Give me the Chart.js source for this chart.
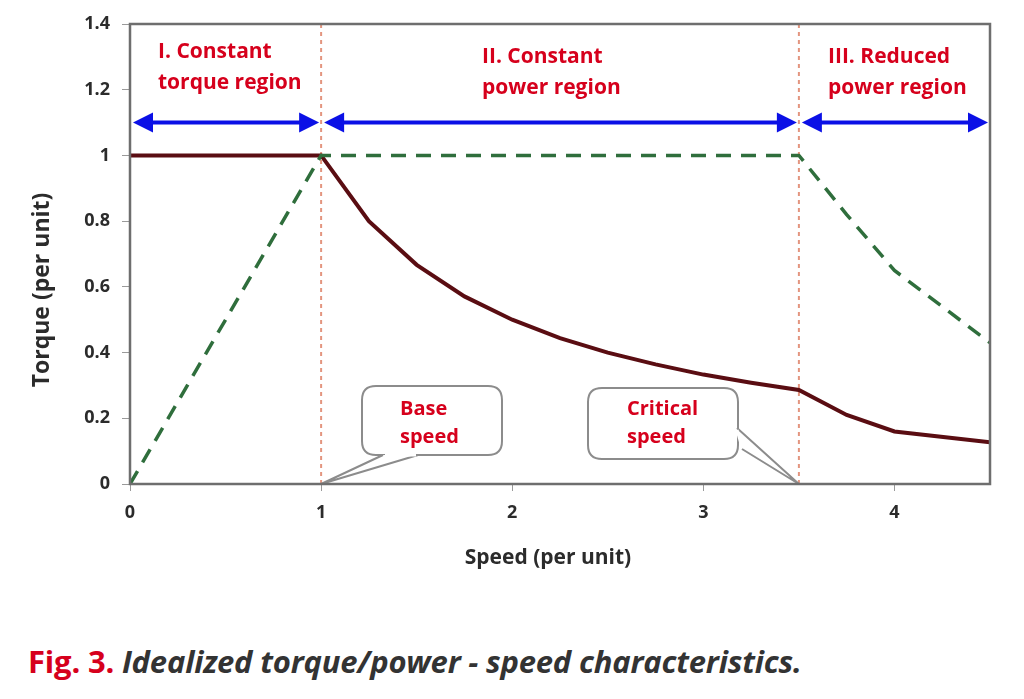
<!DOCTYPE html>
<html>
<head>
<meta charset="utf-8">
<script src="https://cdn.jsdelivr.net/npm/chart.js@4.4.1/dist/chart.umd.min.js"></script>
<style>
  html, body { margin: 0; padding: 0; background: #fff; }
  body { width: 1024px; height: 699px; position: relative; overflow: hidden; font-family: "Open Sans", sans-serif; }
  #wrap { position: absolute; left: 0; top: 0; width: 1024px; height: 600px; }
  #caption { position: absolute; left: 28px; top: 640px; font-size: 31px; font-weight: 700; color: #333; white-space: nowrap; letter-spacing: -0.2px; }
  #caption .fig { color: #d6001c; }
  #caption em { font-style: italic; }
</style>
</head>
<body>
<div id="wrap"><canvas id="chart" width="1024" height="600"></canvas></div>
<div id="caption"><span class="fig">Fig. 3.</span> <em>Idealized torque/power - speed characteristics.</em></div>
<script>
// torque curve (solid)
const torqueSpeed = [0, 1, 1.25, 1.5, 1.75, 2, 2.25, 2.5, 2.75, 3, 3.25, 3.5, 3.75, 4, 4.5];
const torqueVals = [1, 1, 0.8, 0.667, 0.571, 0.5, 0.444, 0.4, 0.364, 0.333, 0.308, 0.286, 0.21, 0.16, 0.127];
// power curve (dashed)
const powerSpeed = [0, 1, 3.5, 3.75, 4, 4.5];
const powerVals = [0, 1, 1, 0.82, 0.65, 0.43];
// region boundaries and labels
const regionBounds = [0, 1, 3.5, 4.5];
const regionLabels = [["I. Constant", "torque region"], ["II. Constant", "power region"], ["III. Reduced", "power region"]];
const arrowLevel = 1.1;
const markerSpeeds = [1, 3.5];
const calloutLabels = [["Base", "speed"], ["Critical", "speed"]];
const xTicks = [0, 1, 2, 3, 4];
const yTicks = [0, 0.2, 0.4, 0.6, 0.8, 1, 1.2, 1.4];

const RED = "#d6001c";
const BLUE = "#0b10e6";

function pts(xs, ys) {
  return xs.map((x, i) => ({ x, y: ys[i] }));
}

function arrowHead(ctx, x, y, dir) {
  ctx.beginPath();
  ctx.moveTo(x, y);
  ctx.lineTo(x - dir * 20, y - 10);
  ctx.lineTo(x - dir * 20, y + 10);
  ctx.closePath();
  ctx.fill();
}

function roundBox(ctx, x, y, w, h, r) {
  ctx.beginPath();
  ctx.moveTo(x + r, y);
  ctx.lineTo(x + w - r, y);
  ctx.quadraticCurveTo(x + w, y, x + w, y + r);
  ctx.lineTo(x + w, y + h - r);
  ctx.quadraticCurveTo(x + w, y + h, x + w - r, y + h);
  ctx.lineTo(x + r, y + h);
  ctx.quadraticCurveTo(x, y + h, x, y + h - r);
  ctx.lineTo(x, y + r);
  ctx.quadraticCurveTo(x, y, x + r, y);
  ctx.closePath();
}

const decor = {
  id: "decor",
  beforeDatasetsDraw(chart) {
    const { ctx, chartArea: a, scales: { x, y } } = chart;
    ctx.save();
    // vertical dotted markers
    ctx.strokeStyle = "rgba(222,130,105,0.85)";
    ctx.lineWidth = 2;
    ctx.setLineDash([4, 4]);
    markerSpeeds.forEach((s) => {
      const px = x.getPixelForValue(s);
      ctx.beginPath();
      ctx.moveTo(px, a.top);
      ctx.lineTo(px, a.bottom);
      ctx.stroke();
    });
    ctx.setLineDash([]);

    // callouts
    const boxes = [
      { l: 362, t: 386, w: 140, h: 69, tail: [[383, 455], [418, 455]], tx: 400 },
      { l: 588, t: 388, w: 150, h: 71, tail: [[737, 428], [742, 449]], tx: 627 },
    ];
    boxes.forEach((b, i) => {
      const ax = x.getPixelForValue(markerSpeeds[i]);
      const ay = y.getPixelForValue(0);
      ctx.fillStyle = "#fff";
      ctx.strokeStyle = "#8c8c8c";
      ctx.lineWidth = 2;
      roundBox(ctx, b.l, b.t, b.w, b.h, 14);
      ctx.fill();
      ctx.stroke();
      ctx.beginPath();
      ctx.moveTo(b.tail[0][0], b.tail[0][1]);
      ctx.lineTo(ax, ay);
      ctx.lineTo(b.tail[1][0], b.tail[1][1]);
      ctx.fill();
      ctx.stroke();
      // hide box border where the tail joins
      ctx.strokeStyle = "#fff";
      ctx.lineWidth = 3;
      ctx.beginPath();
      ctx.moveTo(b.tail[0][0] + (i === 0 ? 2 : 0), b.tail[0][1] + (i === 1 ? 2 : 0));
      ctx.lineTo(b.tail[1][0] - (i === 0 ? 2 : 0), b.tail[1][1] - (i === 1 ? 2 : 0));
      ctx.stroke();
      ctx.fillStyle = RED;
      ctx.font = "bold 20px 'Open Sans'";
      ctx.textAlign = "left";
      ctx.textBaseline = "middle";
      ctx.fillText(calloutLabels[i][0], b.tx, 409);
      ctx.fillText(calloutLabels[i][1], b.tx, 437);
    });
    ctx.restore();
  },
  afterDatasetsDraw(chart) {
    const { ctx, chartArea: a, scales: { x, y } } = chart;
    ctx.save();
    // frame
    ctx.strokeStyle = "#6e6e6e";
    ctx.lineWidth = 2.5;
    ctx.strokeRect(a.left, a.top, a.right - a.left, a.bottom - a.top);

    // region arrows
    const ay = y.getPixelForValue(arrowLevel);
    ctx.strokeStyle = BLUE;
    ctx.fillStyle = BLUE;
    ctx.lineWidth = 4;
    for (let i = 0; i < regionBounds.length - 1; i += 1) {
      const x0 = x.getPixelForValue(regionBounds[i]) + 3;
      const x1 = x.getPixelForValue(regionBounds[i + 1]) - 2;
      ctx.beginPath();
      ctx.moveTo(x0 + 10, ay);
      ctx.lineTo(x1 - 10, ay);
      ctx.stroke();
      arrowHead(ctx, x0, ay, -1);
      arrowHead(ctx, x1, ay, 1);
    }

    // region labels
    const labelX = [158, 482, 828];
    const labelY = [52, 57, 57];
    ctx.fillStyle = RED;
    ctx.font = "bold 21px 'Open Sans'";
    ctx.textAlign = "left";
    ctx.textBaseline = "middle";
    regionLabels.forEach((lines, i) => {
      ctx.fillText(lines[0], labelX[i], labelY[i]);
      ctx.fillText(lines[1], labelX[i], labelY[i] + 31);
    });

    // axis titles
    ctx.fillStyle = "#2b2b2b";
    ctx.font = "bold 21px 'Open Sans'";
    ctx.textAlign = "center";
    ctx.fillText("Speed (per unit)", 548, 558);
    ctx.translate(42, 290);
    ctx.rotate(-Math.PI / 2);
    ctx.font = "bold 23px 'Open Sans'";
    ctx.fillText("Torque (per unit)", 0, 0);
    ctx.restore();
  },
};

new Chart(document.getElementById("chart"), {
  type: "line",
  data: {
    datasets: [
      {
        label: "Power",
        data: pts(powerSpeed, powerVals),
        borderColor: "#2f6e3c",
        borderWidth: 3.5,
        borderDash: [15, 10],
        pointRadius: 0,
        tension: 0,
      },
      {
        label: "Torque",
        data: pts(torqueSpeed, torqueVals),
        borderColor: "#5a0d12",
        borderWidth: 4,
        pointRadius: 0,
        tension: 0,
      },
    ],
  },
  options: {
    responsive: false,
    animation: false,
    layout: { padding: { left: 0, top: 24, right: 34, bottom: 0 } },
    plugins: { legend: { display: false }, tooltip: { enabled: false } },
    scales: {
      x: {
        type: "linear",
        min: 0,
        max: 4.5,
        afterFit: (s) => { s.height = 116; },
        afterBuildTicks: (s) => { s.ticks = xTicks.map((v) => ({ value: v })); },
        ticks: { color: "#2b2b2b", font: { family: "Open Sans", size: 18, weight: "bold" }, padding: 11, maxRotation: 0, callback: (v) => String(v) },
        grid: { drawOnChartArea: false, drawTicks: true, tickLength: 7, color: "#9a9a9a" },
        border: { display: false },
      },
      y: {
        min: 0,
        max: 1.4,
        afterFit: (s) => { s.width = 130; },
        afterBuildTicks: (s) => { s.ticks = yTicks.map((v) => ({ value: v })); },
        ticks: { color: "#2b2b2b", font: { family: "Open Sans", size: 18, weight: "bold" }, padding: 12, callback: (v) => String(v) },
        grid: { drawOnChartArea: false, drawTicks: true, tickLength: 8, color: "#9a9a9a" },
        border: { display: false },
      },
    },
  },
  plugins: [decor],
});
</script>
</body>
</html>
